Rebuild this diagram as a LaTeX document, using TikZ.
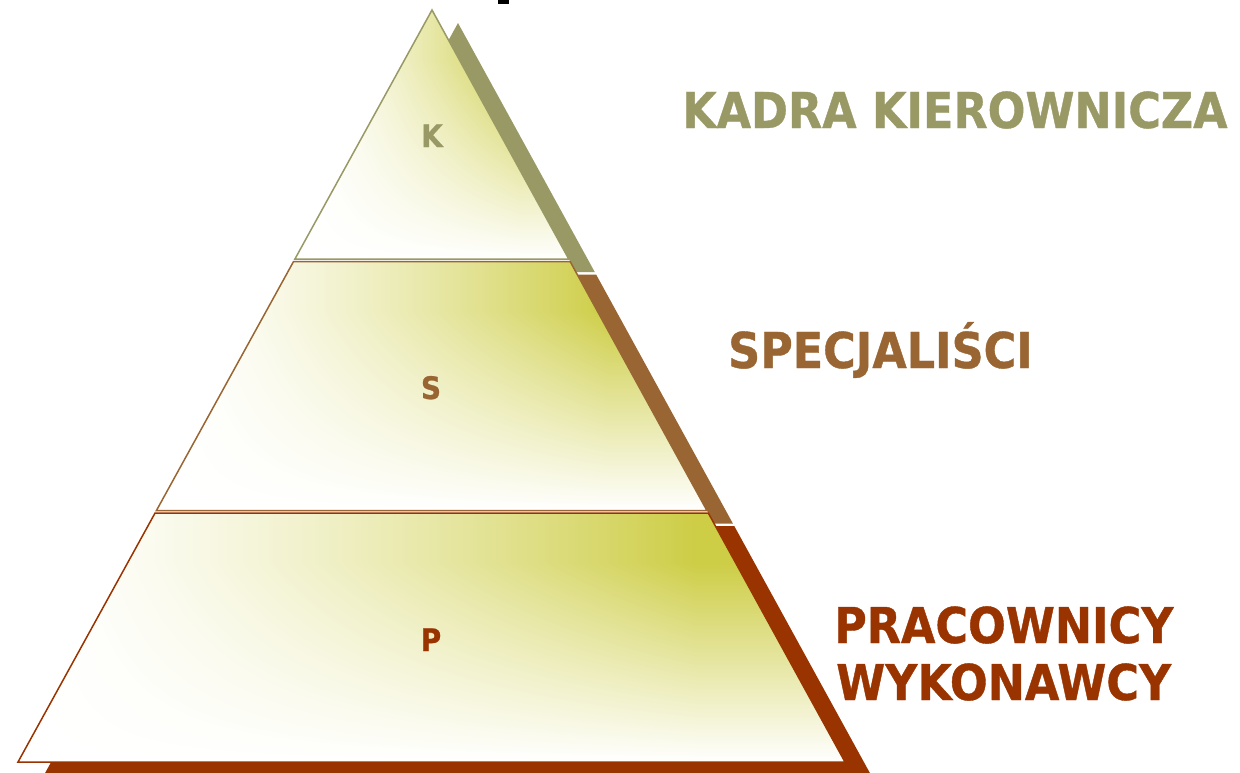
\documentclass[tikz,border=0pt]{standalone}
\usepackage{fontspec}
\setmainfont{DejaVu Sans}[FakeStretch=0.9, BoldFeatures={FakeBold=0.8}]
\definecolor{olv}{RGB}{153,153,102}
\definecolor{brn}{RGB}{153,102,51}
\definecolor{drd}{RGB}{153,51,0}
\pgfdeclarefunctionalshading{pyrshade}{\pgfpointorigin}{\pgfpoint{100bp}{100bp}}{}{
  25 sub 50 div 0.8 div
  dup 1 gt {pop 1} if dup 0 lt {pop 0} if
  exch
  25 sub 50 div 0.82 div
  dup 1 gt {pop 1} if dup 0 lt {pop 0} if
  dup sqrt mul
  mul
  dup 0.196 mul 1 exch sub
  exch
  dup 0.196 mul 1 exch sub
  exch
  0.725 mul 1 exch sub
}
\tikzset{
  layerfill/.style={shading=pyrshade},
  biglab/.style={font=\bfseries\fontsize{49.4}{52}\selectfont, anchor=base west, inner sep=0pt},
  letlab/.style={font=\bfseries\fontsize{31}{33}\selectfont, anchor=base, inner sep=0pt},
  shadowshift/.style={shift={(26,13)}}
}
\begin{document}
\begin{tikzpicture}[x=1pt,y=-1pt]
\useasboundingbox (0,0) rectangle (1240,772);
% fragment of title
\fill[black] (498,0) rectangle (509,4);
% shadows
\fill[olv, shadowshift] (432,10) -- (568.75,259) -- (294.93,259) -- cycle;
\fill[brn, shadowshift] (293.55,261.5) -- (570.12,261.5) -- (706.89,510.5) -- (156.44,510.5) -- cycle;
\fill[drd, shadowshift] (155.07,513) -- (708.26,513) -- (845,762) -- (18,762) -- cycle;
% white base under the layers
\fill[white] (432,10) -- (845,762) -- (18,762) -- cycle;
% top layer
\shade[layerfill] (432,10) -- (568.75,259) -- (294.93,259) -- cycle;
\draw[olv, line width=1.5pt, line join=miter] (432,10) -- (568.75,259) -- (294.93,259) -- cycle;
% middle layer
\shade[layerfill] (293.55,261.5) -- (570.12,261.5) -- (706.89,510.5) -- (156.44,510.5) -- cycle;
\draw[brn, line width=1.5pt] (293.55,261.5) -- (570.12,261.5) -- (706.89,510.5) -- (156.44,510.5) -- cycle;
% bottom layer
\shade[layerfill] (155.07,513) -- (708.26,513) -- (845,762) -- (18,762) -- cycle;
\draw[drd, line width=1.5pt] (155.07,513) -- (708.26,513) -- (845,762) -- (18,762) -- cycle;
% letters
\node[letlab, text=olv] (k) at (432,147) {K};
\node[letlab, text=brn] (s) at (431,399) {S};
\node[letlab, text=drd] (p) at (431,651) {P};
% labels
\node[biglab, text=olv] (kadra) at (682,128) {KADRA KIEROWNICZA};
\node[biglab, text=brn] (spec) at (728,368) {SPECJALIŚCI};
\node[biglab, text=drd] (prac) at (834,643) {PRACOWNICY};
\node[biglab, text=drd] (wyk) at (836,700) {WYKONAWCY};
\end{tikzpicture}
\end{document}
